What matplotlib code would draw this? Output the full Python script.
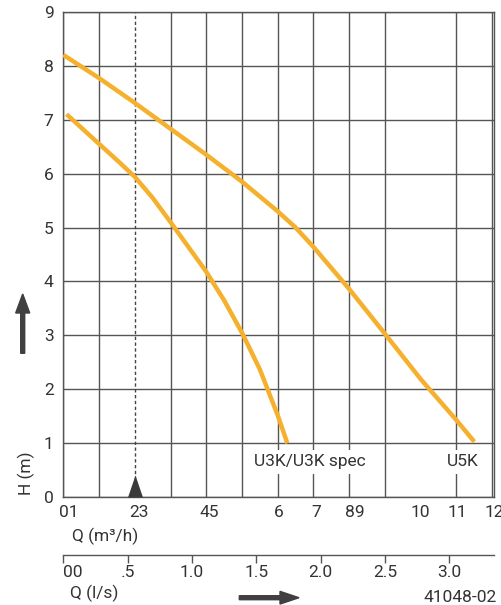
import matplotlib
matplotlib.use("Agg")
import matplotlib.pyplot as plt
import matplotlib.transforms as mtransforms
from matplotlib.patches import FancyArrow

plt.rcParams["font.family"] = ["Roboto", "DejaVu Sans"]
FONT = 12.5
TXT = "#333333"
GRID = "#555555"
ORANGE = "#f5b02e"

# pump curves, Q in m3/h, H in m
u5k_q = [0.0, 1.0, 2.0, 3.0, 4.0, 5.0, 6.0, 6.5, 7.0, 8.0, 9.0, 10.0, 11.0, 11.5]
u5k_h = [8.2, 7.77, 7.31, 6.83, 6.35, 5.85, 5.3, 5.0, 4.64, 3.86, 3.03, 2.19, 1.43, 1.03]
u3k_q = [0.09, 1.0, 1.5, 2.0, 2.5, 3.0, 4.0, 4.5, 5.0, 5.5, 6.0, 6.27]
u3k_h = [7.1, 6.55, 6.25, 5.94, 5.55, 5.1, 4.18, 3.65, 3.05, 2.37, 1.52, 1.0]

curve_labels = ["U3K/U3K spec", "U5K"]
curve_label_q = [6.9, 11.19]
label_h = 0.66

# odd-looking tick labels
q_tick_pos = [0.16, 2.13, 4.08, 6.04, 7.07, 8.16, 10.0, 11.03, 12.06]
q_tick_txt = ["01", "23", "45", "6", "7", "89", "10", "11", "12"]
ls_ticks = [0.0, 0.5, 1.0, 1.5, 2.0, 2.5, 3.0]
ls_tick_txt = ["00", ".5", "1.0", "1.5", "2.0", "2.5", "3.0"]
h_ticks = list(range(10))
marker_q = 2.0

W, H = 502, 605
fig = plt.figure(figsize=(W / 100, H / 100), dpi=100)
left, right, top, bottom = 63.3, 494.3, 11.7, 497.3
ax = fig.add_axes([left / W, 1 - bottom / H, (right - left) / W, (bottom - top) / H])

ax.set_xlim(0, 12)
ax.set_ylim(0, 9)

# grid at every unit except the dashed marker line
ax.set_xticks([q for q in range(13) if q != marker_q], minor=True)
ax.set_yticks(h_ticks)
ax.grid(which="minor", axis="x", color=GRID, lw=1.0, zorder=1)
ax.grid(which="major", axis="y", color=GRID, lw=1.0, zorder=1)
ax.set_xticks(q_tick_pos, labels=q_tick_txt)
ax.tick_params(which="both", length=0, labelsize=FONT, colors=TXT)
ax.tick_params(axis="x", pad=5.5)
ax.tick_params(axis="y", pad=7)
for sp in ax.spines.values():
    sp.set_color(GRID)
    sp.set_linewidth(1.0)
ax.set_axisbelow(True)

ax.axvline(marker_q, color="#444444", lw=1.0, ls=(0, (2.4, 1.8)), zorder=2)
ax.plot([marker_q], [0], marker=[(-0.34, 0), (0.34, 0), (0, 1)], ms=31.7,
        color="#3a3a3a", mec="none", clip_on=False, zorder=6)

ax.plot(u5k_q, u5k_h, color=ORANGE, lw=3.2, solid_capstyle="butt",
        solid_joinstyle="round", zorder=4)
ax.plot(u3k_q, u3k_h, color=ORANGE, lw=3.2, solid_capstyle="butt",
        solid_joinstyle="round", zorder=4)

for txt, q in zip(curve_labels, curve_label_q):
    ax.text(q, label_h, txt, ha="center", va="center", fontsize=FONT, color=TXT,
            zorder=3, bbox=dict(boxstyle="square,pad=0.25", fc="white", ec="none"))

# second flow scale in l/s
sec = ax.secondary_xaxis(-0.119, functions=(lambda q: q / 3.6, lambda q: q * 3.6))
sec.set_xticks(ls_ticks, labels=ls_tick_txt)
sec.tick_params(length=5.4, width=1.0, color=GRID, labelsize=FONT,
                labelcolor=TXT, pad=1.5)
sec.spines["bottom"].set_color(GRID)
sec.spines["bottom"].set_linewidth(1.0)
sec.get_xticklabels()[0].set_ha("left")

fig.text(72 / W, 1 - 536.7 / H, "Q (m³/h)", ha="left", va="center",
         fontsize=FONT, color=TXT)
fig.text(70 / W, 1 - 593 / H, "Q (l/s)", ha="left", va="center",
         fontsize=FONT, color=TXT)
fig.text(26 / W, 1 - 473 / H, "H (m)", ha="center", va="center",
         rotation=90, fontsize=FONT, color=TXT)
fig.text(497 / W, 1 - 597.7 / H, "41048-02", ha="right", va="center",
         fontsize=FONT, color=TXT)

px = mtransforms.IdentityTransform()
fig.add_artist(FancyArrow(22.7, H - 353.3, 0, 59.3, width=4, head_width=14,
                          head_length=19, length_includes_head=True,
                          color="#404040", transform=px))
fig.add_artist(FancyArrow(239.3, H - 597.7, 59.7, 0, width=4, head_width=12.7,
                          head_length=19, length_includes_head=True,
                          color="#404040", transform=px))

fig.savefig("out.png", dpi=100)
